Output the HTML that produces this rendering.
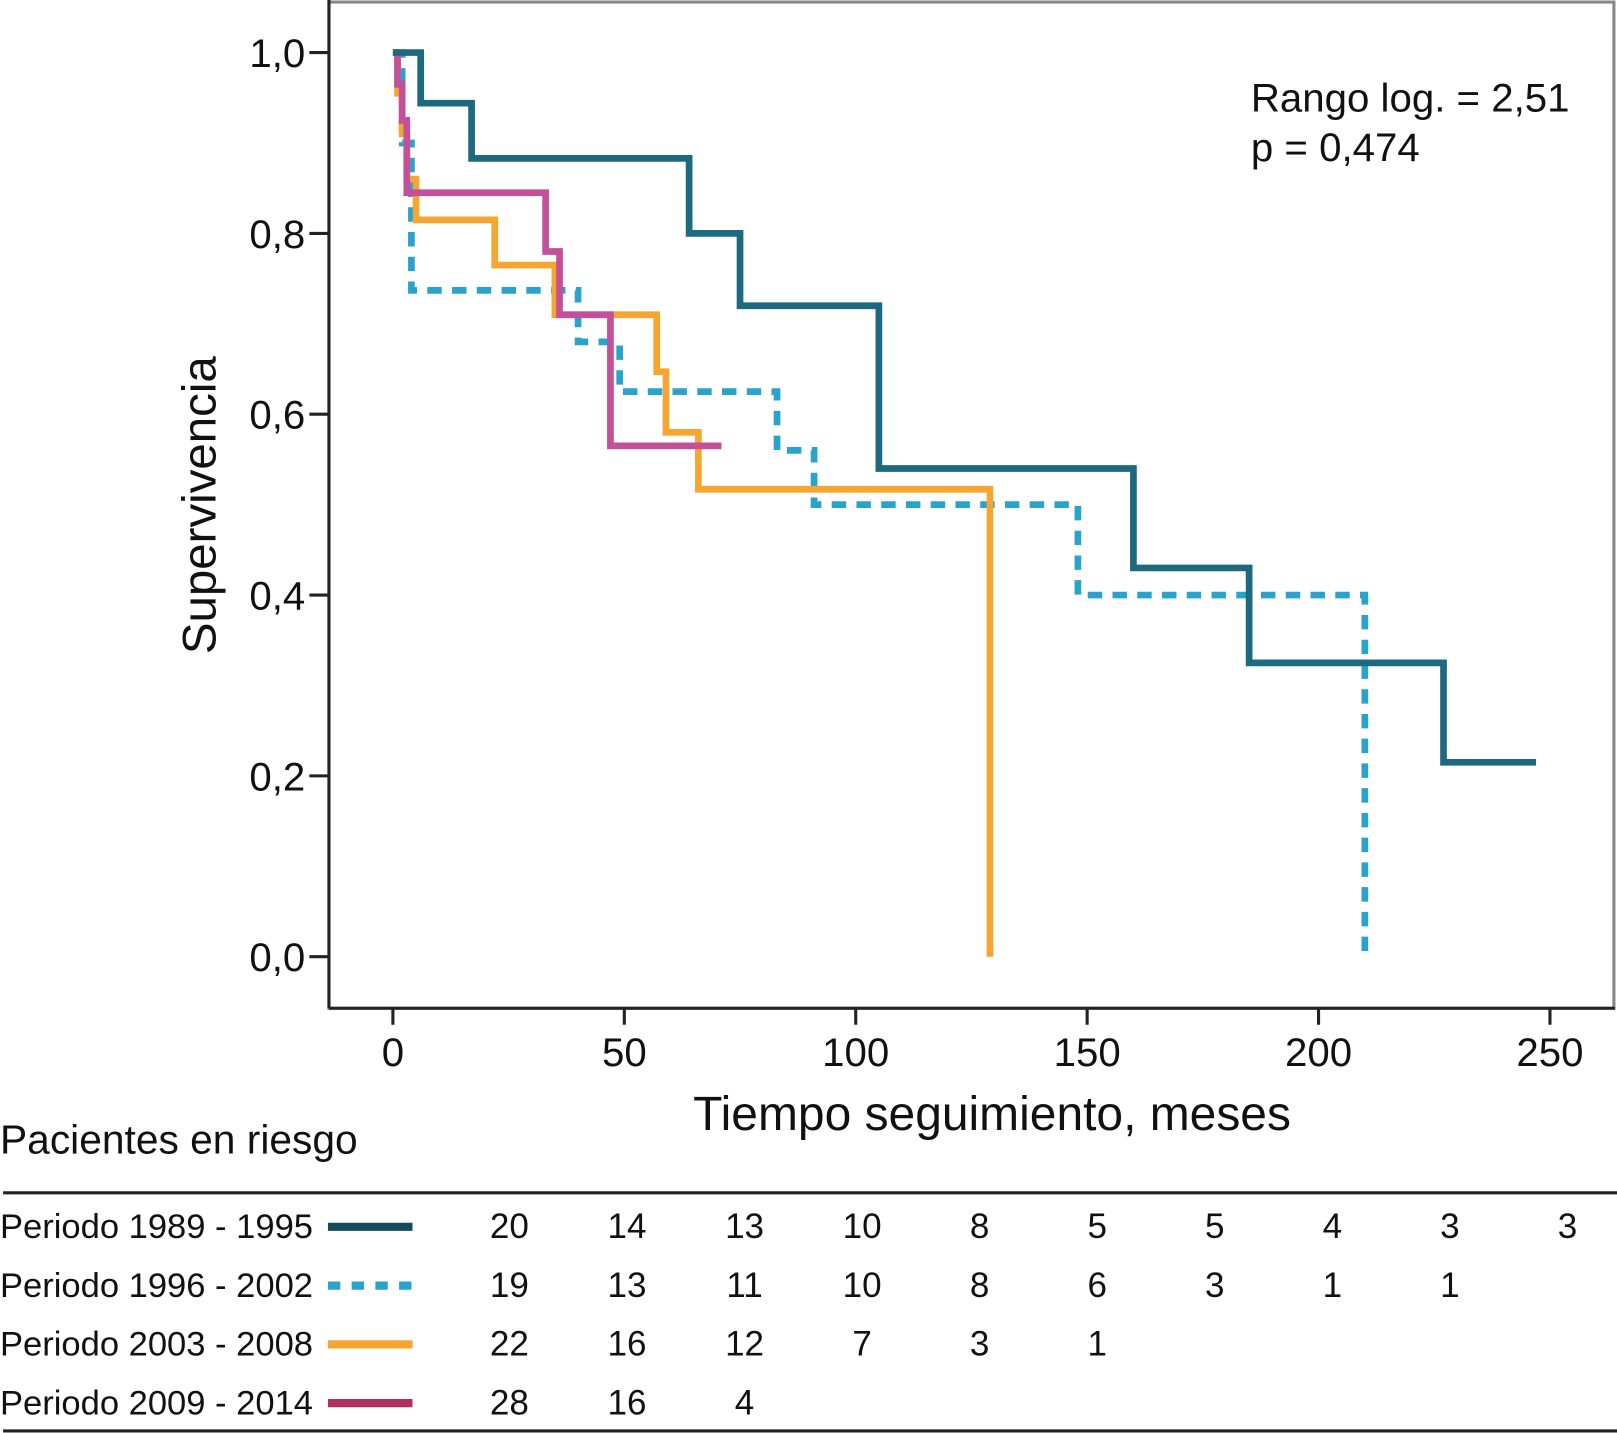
<!DOCTYPE html>
<html><head><meta charset="utf-8"><style>
html,body{margin:0;padding:0;background:#fff;}
svg{display:block;font-family:"Liberation Sans",sans-serif;}
</style></head><body>
<svg id="chart" width="1617" height="1433" viewBox="0 0 1568 1390" preserveAspectRatio="none" xmlns="http://www.w3.org/2000/svg">
<g id="axes"></g><g id="series"></g><g id="table"></g>
</svg>
<script>
const xTicks=[0,50,100,150,200,250];
const yTicks=[0,0.2,0.4,0.6,0.8,1.0];
const yTickLabels=["0,0","0,2","0,4","0,6","0,8","1,0"];
const s1Times=[0,6,17,64,75,105,160,185,227,247];
const s1Surv=[1.0,0.944,0.883,0.80,0.72,0.54,0.43,0.325,0.215,0.215];
const s2Times=[0,2,4,40,49,83,91,148,210,210];
const s2Surv=[1.0,0.90,0.737,0.68,0.625,0.56,0.50,0.40,0.0,0.0];
const s3Times=[0,1,2,3,5,22,35,57,59,66,129,129];
const s3Surv=[1.0,0.955,0.91,0.86,0.815,0.765,0.71,0.647,0.58,0.517,0.0,0.0];
const s4Times=[0,1,2,3,33,36,47,71];
const s4Surv=[1.0,0.965,0.925,0.845,0.78,0.71,0.565,0.565];
const seriesNames=["Periodo 1989 - 1995","Periodo 1996 - 2002","Periodo 2003 - 2008","Periodo 2009 - 2014"];
const risk1=[20,14,13,10,8,5,5,4,3,3];
const risk2=[19,13,11,10,8,6,3,1,1];
const risk3=[22,16,12,7,3,1];
const risk4=[28,16,4];

const NS="http://www.w3.org/2000/svg";
const X=v=>381+v*(1503-381)/250;
const Y=v=>928-v*(928-51);
function mk(tag,attrs,parent,text){const e=document.createElementNS(NS,tag);for(const k in attrs)e.setAttribute(k,attrs[k]);if(text!==undefined)e.textContent=text;parent.appendChild(e);return e;}
const axes=document.getElementById('axes'),ser=document.getElementById('series'),tab=document.getElementById('table');

let e;
e=mk('rect',{x:319,y:2,width:1246,height:976,fill:'none',stroke:'#888',"stroke-width":3},axes);

e=mk('line',{x1:319,y1:0,x2:319,y2:978,stroke:'#222',"stroke-width":3},axes);

e=mk('line',{x1:319,y1:978,x2:1566,y2:978,stroke:'#222',"stroke-width":3},axes);

yTicks.forEach((t,i)=>{
  e=mk('line',{x1:300,y1:Y(t),x2:319,y2:Y(t),stroke:'#222',"stroke-width":3},axes);
  
  e=mk('text',{x:296,y:Y(t)+14,"text-anchor":"end","font-size":39,fill:'#111'},axes,yTickLabels[i]);
  
});
xTicks.forEach(t=>{
  e=mk('line',{x1:X(t),y1:978,x2:X(t),y2:994,stroke:'#222',"stroke-width":3},axes);
  
  e=mk('text',{x:X(t),y:1034,"text-anchor":"middle","font-size":39,fill:'#111'},axes,String(t));
  
});
e=mk('text',{x:0,y:0,transform:"translate(209,490) rotate(-90)","text-anchor":"middle","font-size":46,fill:'#111'},axes,"Supervivencia");

e=mk('text',{x:962,y:1096,"text-anchor":"middle","font-size":46.5,fill:'#111'},axes,"Tiempo seguimiento, meses");

e=mk('text',{x:1213,y:108,"font-size":39,fill:'#111'},axes,"Rango log. = 2,51");

e=mk('text',{x:1213,y:156,"font-size":39,fill:'#111'},axes,"p = 0,474");


const colors=['#1d6a80','#2aa3cc','#f6a531','#c4509a'];
const legColors=['#144b5e','#2aa3cc','#f6a531','#b1305f'];
const dashes=['none','14,10','none','none'];
const allT=[s1Times,s2Times,s3Times,s4Times],allS=[s1Surv,s2Surv,s3Surv,s4Surv];
const names=['series-1989-1995','series-1996-2002','series-2003-2008','series-2009-2014'];
[1,2,3,0].forEach(k=>{
  const T=allT[k],S=allS[k];
  let d='M'+X(T[0])+','+Y(S[0]);
  for(let i=1;i<T.length;i++){d+=' H'+X(T[i])+' V'+Y(S[i]);}
  e=mk('path',{d:d,fill:'none',stroke:colors[k],"stroke-width":6.5,"stroke-dasharray":dashes[k]},ser);
  
});

e=mk('text',{x:0,y:1119,"font-size":39.5,fill:'#111'},tab,"Pacientes en riesgo");

e=mk('line',{x1:3,y1:1157,x2:1568,y2:1157,stroke:'#222',"stroke-width":3},tab);

e=mk('line',{x1:3,y1:1388,x2:1568,y2:1388,stroke:'#222',"stroke-width":3},tab);

const risks=[risk1,risk2,risk3,risk4];
const rowY=[1189,1246,1303,1360];
risks.forEach((r,k)=>{
  e=mk('text',{x:0,y:rowY[k]+12,"font-size":33.5,fill:'#111'},tab,seriesNames[k]);
  
  e=mk('line',{x1:318,y1:rowY[k]+1,x2:400,y2:rowY[k]+1,stroke:legColors[k],"stroke-width":8,"stroke-dasharray":k===1?'12,11':'none'},tab);
  
  r.forEach((v,i)=>{
    e=mk('text',{x:494+i*114,y:rowY[k]+12,"text-anchor":"middle","font-size":34,fill:'#111'},tab,String(v));
    
  });
});
</script>
</body></html>
